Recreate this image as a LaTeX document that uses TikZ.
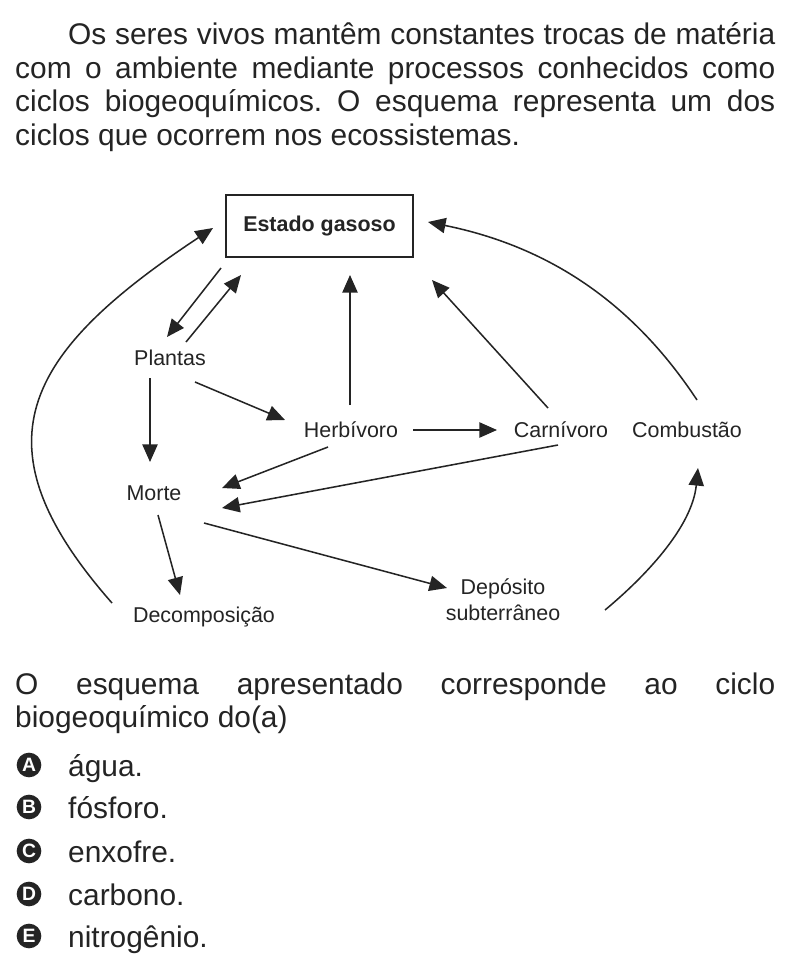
\documentclass[tikz,border=0pt]{standalone}
\usepackage{fontspec}
\setmainfont{Liberation Sans}
\usetikzlibrary{arrows.meta}
\frenchspacing

\definecolor{ink}{gray}{0.14}

\begin{document}
\begin{tikzpicture}[
  x=0.03cm, y=-0.03cm,
  color=ink,
  >={Triangle[length=15pt,width=13pt]},
  txt/.style={anchor=base west,inner sep=0pt,font=\fontsize{25.5}{28}\selectfont},
  lab/.style={inner sep=0pt,text height=13.2pt,text depth=0pt,font=\fontsize{18.3}{22}\selectfont},
  lab2/.style={inner sep=0pt,align=center,font=\fontsize{18.3}{22}\selectfont},
  box/.style={draw,line width=1.5pt,minimum width=5.61cm,minimum height=1.86cm,
              font=\bfseries\fontsize{18.3}{22}\selectfont},
  flow/.style={->,line width=1.3pt},
  opt/.style={circle,fill=ink,text=white,inner sep=0pt,minimum size=0.74cm,
              font=\bfseries\fontsize{16.5}{16.5}\selectfont},
]
\fill[white] (0,0) rectangle (804,976);
\useasboundingbox (0,0) rectangle (804,976);

% --- statement ---
\node[txt] (t1) at (68,44)  {\makebox[21.21cm][s]{Os seres vivos mantêm constantes trocas de matéria}};
\node[txt] (t2) at (15,78)  {\makebox[22.8cm][s]{com o ambiente mediante processos conhecidos como}};
\node[txt] (t3) at (15,111) {\makebox[22.8cm][s]{ciclos biogeoquímicos. O esquema representa um dos}};
\node[txt] (t4) at (15,145) {ciclos que ocorrem nos ecossistemas.};

% --- diagram nodes ---
\node[box]  (estado)  at (319.5,226) {Estado gasoso};
\node[lab]  (plantas) at (170,358)   {Plantas};
\node[lab]  (herb)    at (351,430)   {Herbívoro};
\node[lab]  (carn)    at (561,430)   {Carnívoro};
\node[lab]  (comb)    at (687,430)   {Combustão};
\node[lab]  (morte)   at (154,493)   {Morte};
\node[lab]  (decomp)  at (204,615)   {Decomposição};
\node[lab2] (dep)     at (503,600)   {Depósito\\subterrâneo};

% --- exchanges with the gas phase ---
\draw[flow] ([shift={(-98.5,42)}]estado.center) -- ([shift={(-3,-21)}]plantas.center);
\draw[flow] ([shift={(16,-16)}]plantas.center)  -- ([shift={(-78.5,49)}]estado.center);
\draw[flow] ([shift={(-1,-25)}]herb.center)     -- ([shift={(30.5,49)}]estado.center);
\draw[flow] ([shift={(-13,-22)}]carn.center)    -- ([shift={(112.5,54)}]estado.center);
\draw[flow] ([shift={(10,-30)}]comb.center)
  .. controls +(-66,-100) and +(118,24) .. ([shift={(108.5,-4)}]estado.center);
\draw[flow] ([shift={(-92,-12)}]decomp.center)
  .. controls +(-139,-158) and +(-191,126.5) .. ([shift={(-106.5,2)}]estado.center);

% --- food chain and death ---
\draw[flow] ([shift={(-20,20)}]plantas.center) -- ([shift={(-4,-31)}]morte.center);
\draw[flow] ([shift={(25,24)}]plantas.center)  -- ([shift={(-66,-10)}]herb.center);
\draw[flow] ([shift={(62,0)}]herb.center)      -- ([shift={(-64,0)}]carn.center);
\draw[flow] ([shift={(-23,17)}]herb.center)    -- ([shift={(68,-5)}]morte.center);
\draw[flow] ([shift={(-3,15)}]carn.center)     -- ([shift={(68,15)}]morte.center);
\draw[flow] ([shift={(4,22)}]morte.center)     -- ([shift={(-24,-20)}]decomp.center);
\draw[flow] ([shift={(50,30)}]morte.center)    -- ([shift={(-56,-12)}]dep.center);
\draw[flow] ([shift={(102,10)}]dep.center)
  .. controls +(38.5,-32) and +(-6,60) .. ([shift={(11,38)}]comb.center);

% --- question ---
\node[txt] (q1) at (15,694) {\makebox[22.8cm][s]{O esquema apresentado corresponde ao ciclo}};
\node[txt] (q2) at (15,727) {biogeoquímico do(a)};

\foreach \l/\y/\t in {A/776/água., B/818/fósforo., C/862/enxofre., D/905/carbono., E/947/nitrogênio.}{
  \node[opt] (c\l) at (29,\y-11) {\l};
  \node[txt] (a\l) at (68,\y) {\t};
}

\end{tikzpicture}
\end{document}
